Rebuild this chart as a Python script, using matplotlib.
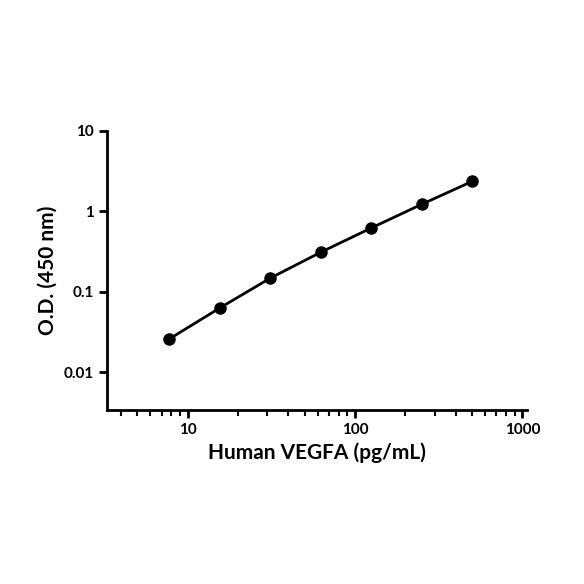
import matplotlib
matplotlib.use("Agg")
import matplotlib.pyplot as plt
import numpy as np

conc = [7.8, 15.6, 31.25, 62.5, 125, 250, 500]
od = [0.026, 0.063, 0.148, 0.31, 0.62, 1.22, 2.35]

plt.rcParams['font.family'] = ['Lato', 'DejaVu Sans']
fig = plt.figure(figsize=(5.84, 5.84), dpi=100)
ax = fig.add_axes([0.183, 0.298, 0.72, 0.478])
ax.set_xscale('log'); ax.set_yscale('log')
ax.plot(conc, od, color='black', lw=2, marker='o', ms=8)
ax.set_xlim(3.3, 1070)
ax.set_ylim(0.0034, 10)
for s in ['top', 'right']:
    ax.spines[s].set_visible(False)
for s in ['left', 'bottom']:
    ax.spines[s].set_linewidth(2)
ax.set_xticks([10, 100, 1000]); ax.set_xticklabels(['10', '100', '1000'], fontweight='bold')
ax.set_yticks([0.01, 0.1, 1, 10]); ax.set_yticklabels(['0.01', '0.1', '1', '10'], fontweight='bold')
ax.yaxis.set_minor_locator(matplotlib.ticker.NullLocator())
ax.tick_params(which='major', width=2, length=6, labelsize=11)
ax.tick_params(which='minor', width=1.5, length=4)
ax.set_xlabel('Human VEGFA (pg/mL)', fontsize=15, fontweight='bold')
ax.set_ylabel('O.D. (450 nm)', fontsize=15, fontweight='bold')
fig.savefig('out.png', dpi=100)
